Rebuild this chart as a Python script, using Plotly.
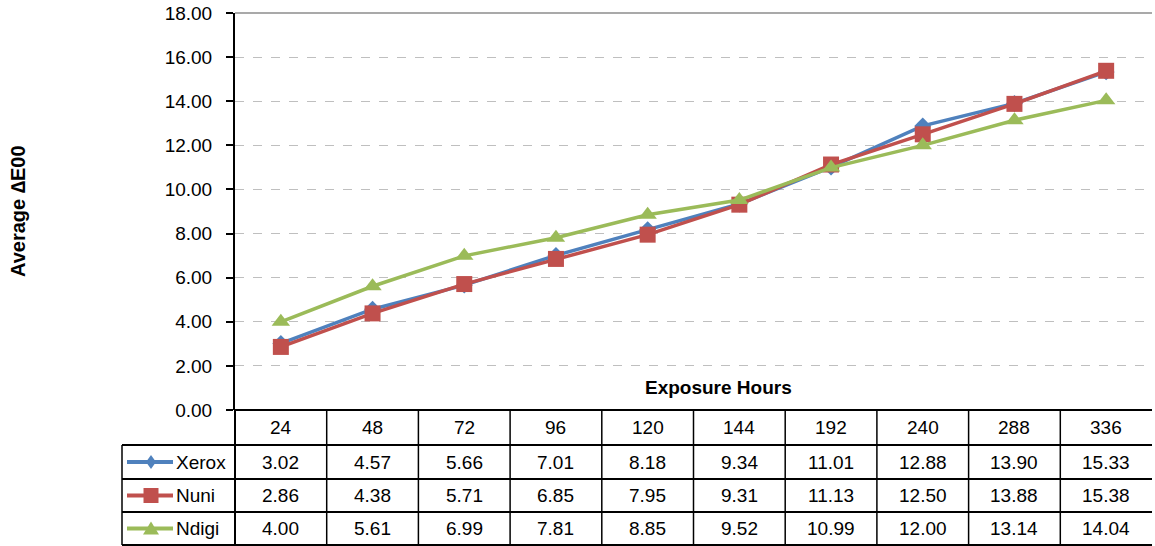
import plotly.graph_objects as go

# ---- data ----
hours = ["24", "48", "72", "96", "120", "144", "192", "240", "288", "336"]
xerox = [3.02, 4.57, 5.66, 7.01, 8.18, 9.34, 11.01, 12.88, 13.90, 15.33]
nuni = [2.86, 4.38, 5.71, 6.85, 7.95, 9.31, 11.13, 12.50, 13.88, 15.38]
ndigi = [4.00, 5.61, 6.99, 7.81, 8.85, 9.52, 10.99, 12.00, 13.14, 14.04]
series_names = ["Xerox", "Nuni", "Ndigi"]
x_title = "Exposure Hours"
y_title = "Average \u2206E00"

# ---- styles ----
colors = ["#4F81BD", "#C0504D", "#9BBB59"]
symbols = ["diamond", "square", "triangle-up"]
msizes = [13, 16, 16]
FONT = "Arial, Liberation Sans, sans-serif"

FW, FH = 1155, 546
L, R, T, B = 235, 3, 13, 136
PW = FW - L - R
PH = FH - T - B


def px(x):
    return (x - L) / PW


def py(y):
    return (FH - B - y) / PH


series = [xerox, nuni, ndigi]
fig = go.Figure()
for name, vals, c, s, ms in zip(series_names, series, colors, symbols, msizes):
    fig.add_trace(go.Scatter(
        x=hours, y=vals, name=name, mode="lines+markers",
        line=dict(color=c, width=3.5),
        marker=dict(symbol=s, size=ms, color=c),
        showlegend=False, cliponaxis=False,
    ))

shapes = []
annotations = []

# top border of plot area (solid grey)
shapes.append(dict(type="line", xref="paper", yref="paper", x0=0, x1=1, y0=1, y1=1,
                   line=dict(color="#8C8C8C", width=1.5)))

# table geometry (pixels)
row_edges = [410, 445, 479, 512, 545]
leg_left = 122
ncol = len(hours)
# horizontal lines
for i, yy in enumerate(row_edges):
    x0 = px(leg_left) if i >= 1 else 0
    shapes.append(dict(type="line", xref="paper", yref="paper", x0=x0, x1=1,
                       y0=py(yy), y1=py(yy), line=dict(color="black", width=2)))
# vertical lines
for j in range(ncol):
    xx = j / ncol
    shapes.append(dict(type="line", xref="paper", yref="paper", x0=xx, x1=xx,
                       y0=py(row_edges[0]), y1=py(row_edges[-1]),
                       line=dict(color="black", width=1.5 if j else 2)))
# legend column left border
shapes.append(dict(type="line", xref="paper", yref="paper", x0=px(leg_left), x1=px(leg_left),
                   y0=py(row_edges[1]), y1=py(row_edges[-1]), line=dict(color="black", width=1.5)))

# header text (category index positions on the x axis)
hc = (row_edges[0] + row_edges[1]) / 2
for j, h in enumerate(hours):
    annotations.append(dict(x=j, xref="x", y=py(hc), yref="paper", text=h, showarrow=False,
                            font=dict(family=FONT, size=19, color="black"),
                            xanchor="center", yanchor="middle"))

# data rows
for r, (name, vals, c) in enumerate(zip(series_names, series, colors)):
    yc = (row_edges[r + 1] + row_edges[r + 2]) / 2
    for j, v in enumerate(vals):
        annotations.append(dict(x=j, xref="x", y=py(yc), yref="paper", text=f"{v:.2f}",
                                showarrow=False, font=dict(family=FONT, size=19, color="black"),
                                xanchor="center", yanchor="middle"))
    # legend key line
    shapes.append(dict(type="line", xref="paper", yref="paper", x0=px(127), x1=px(173),
                       y0=py(yc), y1=py(yc), line=dict(color=c, width=4)))
    cx = 151
    if r == 0:
        path = (f"M {px(cx-5)},{py(yc)} L {px(cx)},{py(yc-7)} L {px(cx+5)},{py(yc)} "
                f"L {px(cx)},{py(yc+7)} Z")
    elif r == 1:
        path = (f"M {px(cx-7.5)},{py(yc-7.5)} L {px(cx+7.5)},{py(yc-7.5)} L {px(cx+7.5)},{py(yc+7.5)} "
                f"L {px(cx-7.5)},{py(yc+7.5)} Z")
    else:
        path = (f"M {px(cx-8)},{py(yc+6)} L {px(cx)},{py(yc-7)} L {px(cx+8)},{py(yc+6)} Z")
    shapes.append(dict(type="path", xref="paper", yref="paper", path=path,
                       fillcolor=c, line=dict(color=c, width=0)))
    annotations.append(dict(x=px(174), xref="paper", y=py(yc), yref="paper", text=name,
                            showarrow=False, font=dict(family=FONT, size=19, color="black"),
                            xanchor="left", yanchor="middle"))

# axis titles
annotations.append(dict(x=px(718), xref="paper", y=py(387), yref="paper", text=f"<b>{x_title}</b>",
                        showarrow=False, font=dict(family=FONT, size=19, color="black"),
                        xanchor="center", yanchor="middle"))
annotations.append(dict(x=px(18), xref="paper", y=py(211), yref="paper", text=f"<b>{y_title}</b>",
                        showarrow=False, textangle=-90, font=dict(family=FONT, size=20, color="black"),
                        xanchor="center", yanchor="middle"))

fig.update_layout(
    width=FW, height=FH,
    margin=dict(l=L, r=R, t=T, b=B, pad=0),
    paper_bgcolor="white", plot_bgcolor="white",
    font=dict(family=FONT, color="black"),
    shapes=shapes, annotations=annotations,
    xaxis=dict(type="category", range=[-0.5, 9.5], showticklabels=False, ticks="",
               showgrid=False, zeroline=False, showline=False),
    yaxis=dict(range=[0, 18], dtick=2, tickformat=".2f", showline=True, linecolor="black",
               linewidth=2, ticks="outside", ticklen=7, tickwidth=1.5, tickcolor="black",
               ticklabelstandoff=10,
               tickfont=dict(family=FONT, size=19, color="black"),
               showgrid=True, gridcolor="#BFBFBF", griddash="dash", gridwidth=1, zeroline=False),
)

fig.write_html("out.html", config={"displayModeBar": False},
               post_script="document.body.style.margin='0';document.body.style.padding='0';")
